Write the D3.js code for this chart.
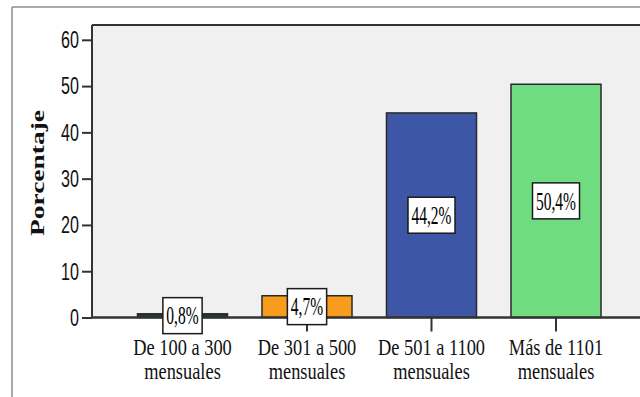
<!DOCTYPE html>
<html>
<head>
<meta charset="utf-8">
<script src="https://cdn.jsdelivr.net/npm/d3@7"></script>
<style>
  html, body { margin: 0; padding: 0; background: #ffffff; }
  svg { display: block; }
</style>
</head>
<body>
<svg id="chart" width="640" height="397"></svg>
<script>
// Income brackets (monthly) and share of respondents, in percent
const categories = ["De 100 a 300", "De 301 a 500", "De 501 a 1100", "Más de 1101"];
const categorySub = ["mensuales", "mensuales", "mensuales", "mensuales"];
const values = [0.8, 4.7, 44.2, 50.4];
const valueLabels = ["0,8%", "4,7%", "44,2%", "50,4%"];
const barColors = ["#183d22", "#f89c1e", "#3d56a6", "#70dc82"];
const yTicks = [0, 10, 20, 30, 40, 50, 60];
const yTitle = "Porcentaje";

const svg = d3.select("#chart");
const W = 640, H = 397;

const plot = { left: 92, top: 25, bottom: 317.5, right: 700 };

const y = d3.scaleLinear().domain([0, 63.2]).range([plot.bottom, plot.top]);
const x = d3.scaleBand()
  .domain(categories)
  .range([120.25, 618.25])
  .paddingInner(0.277)
  .paddingOuter(0.1385);

// outer frame
svg.append("line").attr("x1", 12).attr("x2", W).attr("y1", 7).attr("y2", 7)
  .attr("stroke", "#8c8c8c").attr("stroke-width", 1.5);
svg.append("line").attr("x1", 12).attr("x2", 12).attr("y1", 7).attr("y2", H)
  .attr("stroke", "#8c8c8c").attr("stroke-width", 1.5);

// plot background
svg.append("rect")
  .attr("x", plot.left).attr("y", plot.top)
  .attr("width", plot.right - plot.left).attr("height", plot.bottom - plot.top)
  .attr("fill", "#f0f0f0");
svg.append("line").attr("x1", plot.left).attr("x2", W).attr("y1", plot.top).attr("y2", plot.top)
  .attr("stroke", "#333").attr("stroke-width", 2);

// bars
svg.append("g").selectAll("rect")
  .data(values)
  .join("rect")
  .attr("x", (d, i) => x(categories[i]))
  .attr("width", x.bandwidth())
  .attr("y", d => y(d))
  .attr("height", d => y(0) - y(d))
  .attr("fill", (d, i) => barColors[i])
  .attr("stroke", "#2a2a2a")
  .attr("stroke-width", 1.5);

// y axis
const yAxis = svg.append("g")
  .attr("transform", `translate(${plot.left},0)`)
  .call(d3.axisLeft(y).tickValues(yTicks).tickSize(10).tickPadding(3).tickFormat(d3.format("d")));
yAxis.select(".domain").attr("stroke", "#333").attr("stroke-width", 2)
  .attr("d", `M0,${plot.top}V${plot.bottom}`);
yAxis.selectAll(".tick line").attr("stroke", "#333").attr("stroke-width", 2);
yAxis.selectAll(".tick text")
  .attr("font-family", "Liberation Sans, Arial, sans-serif")
  .attr("font-size", 23)
  .attr("fill", "#111")
  .attr("dy", "0.34em")
  .each(function () {
    const t = d3.select(this);
    const xx = +t.attr("x");
    t.attr("transform", `translate(${xx},0) scale(0.7,1)`).attr("x", 0);
  });

// x axis
const xAxis = svg.append("g")
  .attr("transform", `translate(0,${plot.bottom})`)
  .call(d3.axisBottom(x).tickSize(14).tickFormat(""));
xAxis.select(".domain").attr("stroke", "#333").attr("stroke-width", 2.5)
  .attr("d", `M${plot.left},0H${W}`);
xAxis.selectAll(".tick line").attr("stroke", "#333").attr("stroke-width", 2);

// category labels, two lines each
const catG = svg.append("g")
  .attr("font-family", "Liberation Serif, 'Times New Roman', serif")
  .attr("font-size", 23)
  .attr("fill", "#111")
  .attr("text-anchor", "middle");
categories.forEach((c, i) => {
  const cx = x(c) + x.bandwidth() / 2;
  const g = catG.append("g").attr("transform", `translate(${cx},0) scale(0.8,1)`);
  g.append("text").attr("x", 0).attr("y", 355).text(c);
  g.append("text").attr("x", 0).attr("y", 379).text(categorySub[i]);
});

// value labels in framed boxes at half bar height
const labG = svg.append("g");
values.forEach((v, i) => {
  const cx = x(categories[i]) + x.bandwidth() / 2;
  const cy = y(v / 2);
  const g = labG.append("g").attr("transform", `translate(${cx},${cy})`);
  const rect = g.append("rect");
  const t = g.append("text")
    .attr("font-family", "Liberation Serif, 'Times New Roman', serif")
    .attr("font-size", 25)
    .attr("fill", "#000")
    .attr("text-anchor", "middle")
    .attr("dy", "0.35em")
    .attr("transform", "scale(0.62,1)")
    .text(valueLabels[i]);
  const w = t.node().getComputedTextLength() * 0.62 + 7;
  const h = 36;
  rect.attr("x", -w / 2).attr("y", -h / 2).attr("width", w).attr("height", h)
    .attr("fill", "#ffffff").attr("stroke", "#1a1a1a").attr("stroke-width", 1.5);
});

// y axis title
svg.append("text")
  .attr("transform", "translate(44,173) rotate(-90) scale(1,0.66)")
  .attr("text-anchor", "middle")
  .attr("font-family", "Liberation Serif, 'Times New Roman', serif")
  .attr("font-weight", "bold")
  .attr("font-size", 27.5)
  .attr("fill", "#111")
  .text(yTitle);
</script>
</body>
</html>
